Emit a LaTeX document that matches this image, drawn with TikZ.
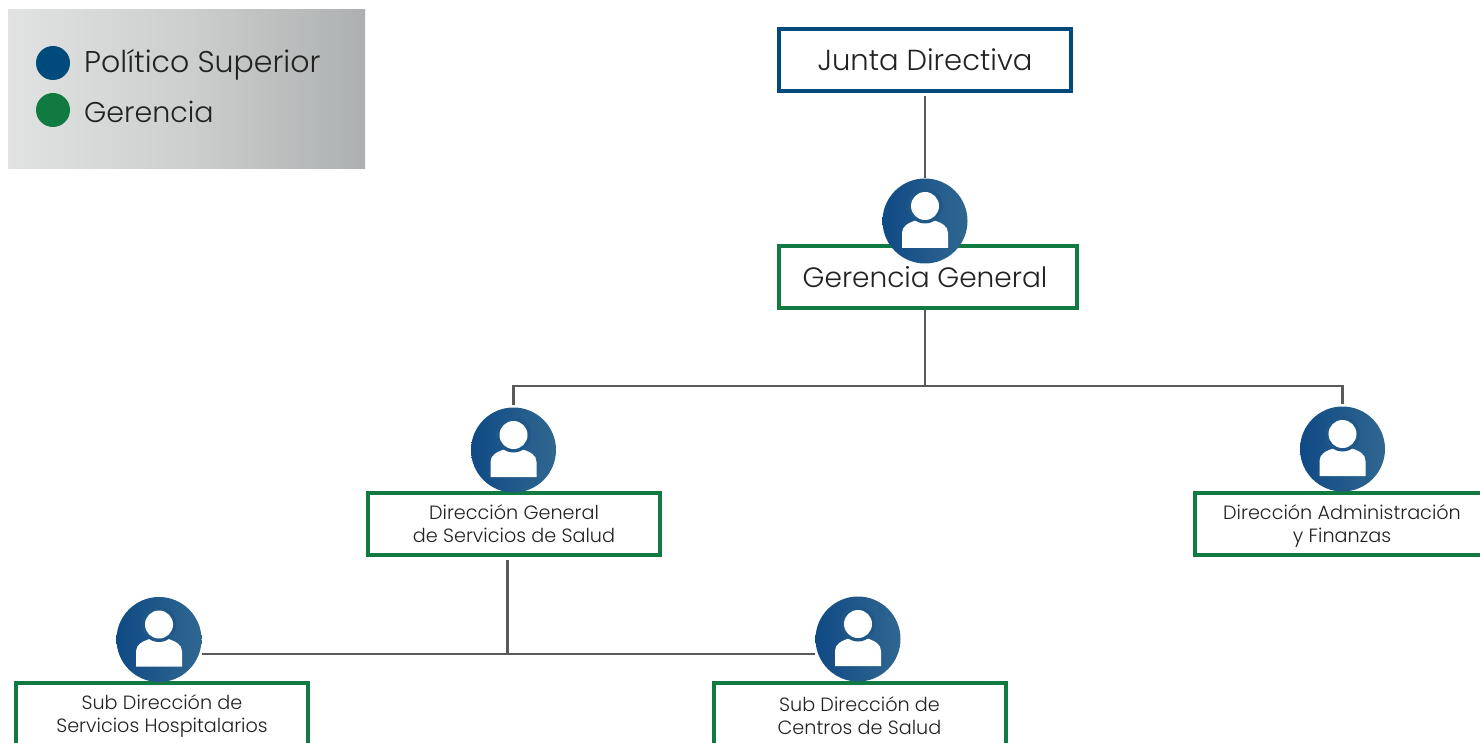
\documentclass[tikz,border=0pt]{standalone}
\usepackage{fontspec}
\setmainfont{Poppins Light}[BoldFont=Poppins]
\usetikzlibrary{positioning}
\definecolor{polblue}{HTML}{004B7C}
\definecolor{gerengreen}{HTML}{107A40}
\definecolor{linegray}{HTML}{595959}
\definecolor{inktext}{HTML}{222222}
\definecolor{discleft}{HTML}{104A85}
\definecolor{discright}{HTML}{306790}
\definecolor{discmid}{HTML}{1F5888}
\definecolor{legleft}{HTML}{E1E2E2}
\definecolor{legmid}{HTML}{CDCFCF}
\definecolor{legright}{HTML}{ADB0B0}
\tikzset{
  box/.style={draw, line width=4pt, fill=white, text=inktext, align=center, minimum width=292pt, minimum height=62pt, inner sep=0pt},
  greenbox/.style={box, draw=gerengreen},
  bluebox/.style={box, draw=polblue},
  bigtext/.style={font=\fontsize{29}{34}\selectfont},
  smalltext/.style={font=\fontsize{19.2}{23}\selectfont, text depth=0pt},
  conn/.style={draw=linegray, line width=2.3pt},
  legdot/.style={circle, minimum size=34pt, inner sep=0pt},
  legtext/.style={anchor=base west, inner sep=0pt, text=inktext},
  pics/person/.style={code={
    \node (-disc) [circle, minimum size=85pt, inner sep=0pt, left color=discleft, right color=discright] {};
    \fill[white] (-23,27) -- (-23,12) .. controls (-23,5) and (-17,2) .. (-8,-1) -- (8,-1) .. controls (17,2) and (23,5) .. (23,12) -- (23,27) -- cycle;
    \fill[discmid] (0,-15) circle (17.5pt);
    \fill[white] (0,-15) circle (14pt);
  }}
}
\begin{document}
\begin{tikzpicture}[x=1pt, y=-1pt]
    \useasboundingbox (0,0) rectangle (1480,743);
    \clip (0,0) rectangle (1480,743);

    % legend
    \node (legend) [minimum width=357pt, minimum height=159pt, inner sep=0pt, left color=legleft, right color=legright, middle color=legmid] at (186.5,89.5) {};
    \node (dotpol) [legdot, fill=polblue] at (53,63) {};
    \node (dotger) [legdot, fill=gerengreen] at (53,110) {};
    \node (legpol) [legtext, font=\fontsize{30}{34}\selectfont] at (84,73) {Político Superior};
    \node (legger) [legtext, font=\fontsize{28.5}{34}\selectfont] at (84,123) {Gerencia};

    % boxes
    \node (junta) [bluebox, bigtext] at (925,60) {Junta Directiva};
    \node (gerencia) [greenbox, font=\fontsize{28}{34}\selectfont, minimum width=298pt] at (928,277) {Gerencia General\hspace{6pt}};
    \node (dirsalud) [greenbox, smalltext] at (514,524) {Dirección General\\de Servicios de Salud};
    \node (diradmin) [greenbox, smalltext, minimum width=294pt] at (1342,524) {Dirección Administración\\y Finanzas};
    \node (subhosp) [greenbox, smalltext] at (162,714) {Sub Dirección de\\Servicios Hospitalarios};
    \node (subcent) [greenbox, smalltext, minimum height=67pt] at (859.5,716) {Sub Dirección de\\Centros de Salud};

    % connectors
    \coordinate (branchtop) at (925,386);
    \coordinate (branchsub) at (507.5,654);
    \pic (pger) at (925,221) {person};
    \pic (psalud) at (513.5,450) {person};
    \pic (padmin) at (1342.5,449) {person};
    \pic (phosp) at (159,639.5) {person};
    \pic (pcent) at (858,639) {person};
    \draw[conn, shorten <=3pt] (junta.south -| pger-disc) -- (pger-disc.north);
    \draw[conn] (gerencia.south -| pger-disc) -- (branchtop);
    \draw[conn, shorten >=2pt] (branchtop) -| (psalud-disc.north);
    \draw[conn, shorten >=2pt] (branchtop) -| (padmin-disc.north);
    \draw[conn, shorten <=3pt] (dirsalud.south -| branchsub) -- (branchsub);
    \draw[conn] (branchsub) -- (branchsub -| phosp-disc.east);
    \draw[conn] (branchsub) -- (branchsub -| pcent-disc.west);
\end{tikzpicture}
\end{document}
